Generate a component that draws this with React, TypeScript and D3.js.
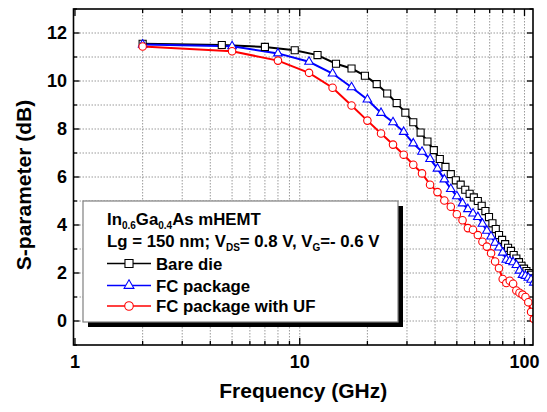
import React, { useEffect, useRef } from 'react';
import * as d3 from 'd3';

// frequency points (GHz)
const freqBare = [2, 4.5, 7, 9.5, 12, 14.5, 17, 19.5, 22, 24.5, 27, 29.5, 32, 34.5, 37, 39.5, 42, 44.5, 47, 49.5,
  52, 54.5, 57, 59.5, 62, 64.5, 67, 69.5, 72, 74.5, 77, 79.5, 82, 84.5, 87, 89.5, 92, 94.5, 97, 99.5, 102, 104.5, 107, 109.5];
const freqFC = [2, 5, 8, 11, 14, 17, 20, 23, 26, 29, 32, 35, 38, 41, 44, 47, 50, 53, 56, 59, 62, 65, 68, 71, 74,
  77, 80, 83, 86, 89, 92, 95, 98, 101, 104, 107, 110];

// S-parameter (dB)
const bareDie = [11.55, 11.5, 11.42, 11.28, 11.08, 10.72, 10.52, 10.22, 9.87, 9.48, 9.08, 8.68, 8.28, 7.85, 7.48, 7.12,
  6.75, 6.42, 6.12, 5.86, 5.68, 5.47, 5.3, 5.15, 5.0, 4.8, 4.58, 4.33, 4.07, 3.83, 3.58, 3.38, 3.2, 3.05, 2.92, 2.75,
  2.6, 2.45, 2.3, 2.18, 2.08, 2.0, 1.93, 1.78];
const fcPackage = [11.52, 11.45, 11.15, 10.8, 10.31, 9.74, 9.23, 8.67, 8.28, 7.88, 7.4, 7.05, 6.75, 6.35, 5.9, 5.5,
  5.2, 4.9, 4.66, 4.48, 4.33, 4.05, 3.76, 3.52, 3.26, 3.06, 2.85, 2.55, 2.5, 2.45, 2.33, 2.1, 1.92, 1.88, 1.8, 1.72, 1.6];
const fcPackageUF = [11.44, 11.24, 10.85, 10.34, 9.72, 8.98, 8.35, 7.81, 7.35, 6.93, 6.51, 6.15, 5.68, 5.37, 5.02,
  4.76, 4.45, 4.2, 3.87, 3.8, 3.58, 3.3, 3.1, 2.82, 2.48, 2.2, 1.75, 1.58, 1.68, 1.55, 1.27, 1.18, 1.1, 1.0, 0.78, 0.38, 0.08];

const xMajor = [1, 10, 100];
const xTickLabels = ['1', '10', '100'];
const xMinor = [2, 3, 4, 5, 6, 7, 8, 9, 20, 30, 40, 50, 60, 70, 80, 90];
const yMajor = [0, 2, 4, 6, 8, 10, 12];
const yMinor = [-1, 1, 3, 5, 7, 9, 11, 13];

const FONT = 'Arial, "Liberation Sans", Helvetica, sans-serif';

export default function App() {
  const ref = useRef<SVGSVGElement>(null);

  useEffect(() => {
    const svg = d3.select(ref.current);
    svg.selectAll('*').remove();

    const left = 73.5, right = 533, top = 9, bottom = 345;
    const x = d3.scaleLog().domain([0.985, 109.1]).range([left, right]);
    const y = d3.scaleLinear().domain([-1, 13]).range([bottom, top]);

    // grid
    const grid = svg.append('g').attr('stroke', '#9a9a9a').attr('stroke-width', 1).attr('stroke-dasharray', '1.5,1.5');
    xMinor.concat([10, 100]).forEach(v => {
      grid.append('line').attr('x1', x(v)).attr('x2', x(v)).attr('y1', top).attr('y2', bottom);
    });
    yMinor.concat(yMajor).filter(v => v > -1 && v < 13).forEach(v => {
      grid.append('line').attr('x1', left).attr('x2', right).attr('y1', y(v)).attr('y2', y(v));
    });

    // ticks on all sides, pointing inward
    const ticks = svg.append('g').attr('stroke', '#000').attr('stroke-width', 1.3);
    const xt = (v: number, len: number) => {
      ticks.append('line').attr('x1', x(v)).attr('x2', x(v)).attr('y1', bottom).attr('y2', bottom - len);
      ticks.append('line').attr('x1', x(v)).attr('x2', x(v)).attr('y1', top).attr('y2', top + len);
    };
    const yt = (v: number, len: number) => {
      ticks.append('line').attr('x1', left).attr('x2', left + len).attr('y1', y(v)).attr('y2', y(v));
      ticks.append('line').attr('x1', right).attr('x2', right - len).attr('y1', y(v)).attr('y2', y(v));
    };
    xMajor.forEach(v => xt(v, 7));
    xMinor.forEach(v => xt(v, 4));
    yMajor.forEach(v => yt(v, 6));
    yMinor.forEach(v => yt(v, 3.5));

    // clip
    svg.append('clipPath').attr('id', 'plotclip')
      .append('rect').attr('x', left).attr('y', top).attr('width', right - left).attr('height', bottom - top);

    const series = [
      { f: freqBare, v: bareDie, color: '#000000', sym: d3.symbolSquare, size: 50 },
      { f: freqFC, v: fcPackage, color: '#0000ff', sym: d3.symbolTriangle, size: 32 },
      { f: freqFC, v: fcPackageUF, color: '#ff0000', sym: d3.symbolCircle, size: 44 },
    ];

    const line = d3.line<[number, number]>().x(d => x(d[0])).y(d => y(d[1]));
    const plot = svg.append('g').attr('clip-path', 'url(#plotclip)');
    series.forEach(s => {
      const pts = s.f.map((f, i) => [f, s.v[i]] as [number, number]);
      plot.append('path').attr('d', line(pts)).attr('fill', 'none')
        .attr('stroke', s.color).attr('stroke-width', 2);
    });
    series.forEach(s => {
      const pts = s.f.map((f, i) => [f, s.v[i]] as [number, number]);
      plot.selectAll(null).data(pts).enter().append('path')
        .attr('d', d3.symbol().type(s.sym).size(s.size)())
        .attr('transform', d => `translate(${x(d[0])},${y(d[1])})`)
        .attr('fill', '#fff').attr('stroke', s.color).attr('stroke-width', 1.1);
    });

    // frame
    svg.append('rect').attr('x', left).attr('y', top).attr('width', right - left).attr('height', bottom - top)
      .attr('fill', 'none').attr('stroke', '#000').attr('stroke-width', 1.6);

    // tick labels
    xMajor.forEach((v, i) => {
      svg.append('text').attr('x', x(v)).attr('y', 368).attr('text-anchor', 'middle')
        .attr('font-family', FONT).attr('font-weight', 'bold').attr('font-size', 18).text(xTickLabels[i]);
    });
    yMajor.forEach(v => {
      svg.append('text').attr('x', 67).attr('y', y(v)).attr('dy', '0.36em').attr('text-anchor', 'end')
        .attr('font-family', FONT).attr('font-weight', 'bold').attr('font-size', 18).text(v);
    });

    // axis titles
    svg.append('text').attr('x', (left + right) / 2).attr('y', 398).attr('text-anchor', 'middle')
      .attr('font-family', FONT).attr('font-weight', 'bold').attr('font-size', 21).text('Frequency (GHz)');
    svg.append('text').attr('transform', 'translate(31,185) rotate(-90)').attr('text-anchor', 'middle')
      .attr('font-family', FONT).attr('font-weight', 'bold').attr('font-size', 21).text('S-parameter (dB)');

    // legend
    const lg = svg.append('g');
    lg.append('rect').attr('x', 88).attr('y', 206).attr('width', 315).attr('height', 121).attr('fill', '#000');
    lg.append('rect').attr('x', 83).attr('y', 201).attr('width', 315).attr('height', 121)
      .attr('fill', '#fff').attr('stroke', '#808080').attr('stroke-width', 1.2);

    const t1 = lg.append('text').attr('x', 107).attr('y', 225).attr('font-family', FONT)
      .attr('font-weight', 'bold').attr('font-size', 16.8);
    t1.append('tspan').text('In');
    t1.append('tspan').attr('font-size', 10).attr('dy', 4).text('0.6');
    t1.append('tspan').attr('dy', -4).text('Ga');
    t1.append('tspan').attr('font-size', 10).attr('dy', 4).text('0.4');
    t1.append('tspan').attr('dy', -4).text('As mHEMT');

    const t2 = lg.append('text').attr('x', 107).attr('y', 247).attr('font-family', FONT)
      .attr('font-weight', 'bold').attr('font-size', 16.8);
    t2.append('tspan').text('Lg = 150 nm; V');
    t2.append('tspan').attr('font-size', 10).attr('dy', 4).text('DS');
    t2.append('tspan').attr('dy', -4).text('= 0.8 V, V');
    t2.append('tspan').attr('font-size', 10).attr('dy', 4).text('G');
    t2.append('tspan').attr('dy', -4).text('=- 0.6 V');

    const names = ['Bare die', 'FC package', 'FC package with UF'];
    const rows = [263.5, 285.5, 306];
    series.forEach((s, i) => {
      const ry = rows[i];
      lg.append('line').attr('x1', 107).attr('x2', 151).attr('y1', ry).attr('y2', ry)
        .attr('stroke', s.color).attr('stroke-width', 1.6);
      lg.append('path').attr('d', d3.symbol().type(s.sym).size(s.size * 1.3)())
        .attr('transform', `translate(129,${ry})`)
        .attr('fill', '#fff').attr('stroke', s.color).attr('stroke-width', 1.1);
      lg.append('text').attr('x', 156).attr('y', ry + 6).attr('font-family', FONT)
        .attr('font-weight', 'bold').attr('font-size', 16.8).text(names[i]);
    });
  }, []);

  return (
    <svg ref={ref} width={547} height={412}
      style={{ position: 'absolute', left: 0, top: 0, background: '#fff' }} />
  );
}
